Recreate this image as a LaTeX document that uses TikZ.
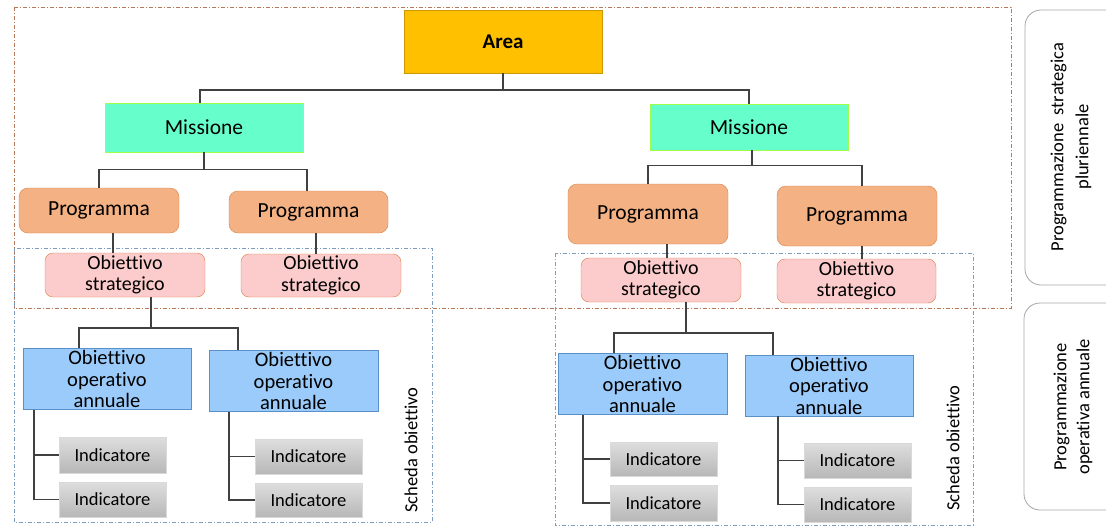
\documentclass[tikz,border=0pt]{standalone}
\usepackage{fontspec}
\setmainfont{Carlito}[Ligatures=NoCommon]
\usepackage{tikz}
\usetikzlibrary{arrows.meta,positioning,calc}

\definecolor{areaY}{HTML}{FFC000}
\definecolor{missG}{HTML}{66FFCC}
\definecolor{progO}{HTML}{F4B183}
\definecolor{progB}{HTML}{D9804A}
\definecolor{strP}{HTML}{FCCBCB}
\definecolor{opB}{HTML}{9BCBFA}
\definecolor{opE}{HTML}{5B8FC8}
\definecolor{frameBr}{HTML}{B8785A}
\definecolor{frameBl}{HTML}{7F9CBF}
\definecolor{linkG}{HTML}{404040}

\begin{document}
\begin{tikzpicture}[x=1pt, y=-1pt,
    box/.style={draw, inner sep=2pt, align=center},
    areabox/.style={box, fill=areaY, draw=areaY!80!black, font=\fontsize{21}{24}\selectfont\bfseries},
    missbox/.style={box, fill=missG, draw=green!55!yellow!70, font=\fontsize{21.5}{24}\selectfont},
    progbox/.style={box, rounded corners=9pt, fill=progO, draw=progB, font=\fontsize{21.5}{24}\selectfont},
    stratbox/.style={box, rounded corners=8pt, fill=strP, draw=progB, font=\fontsize{20}{21.5}\selectfont},
    opbox/.style={box, fill=opB, draw=opE, font=\fontsize{20.5}{21.5}\selectfont},
    indbox/.style={inner sep=2pt, top color=black!13, bottom color=black!28, draw=black!15, font=\fontsize{18.5}{21}\selectfont},
    link/.style={draw=linkG, line width=1.4pt},
    brframe/.style={draw=frameBr, line width=0.9pt, dash pattern=on 4pt off 2pt on 1pt off 2pt},
    blframe/.style={draw=frameBl, line width=0.9pt, dash pattern=on 4pt off 2pt on 1pt off 2pt},
    sidebox/.style={draw=black!35, line width=0.8pt, rounded corners=16pt},
    sidetext/.style={rotate=90, align=center, font=\fontsize{18.5}{25}\selectfont}]
    \useasboundingbox (0,0) rectangle (1106,527);

    % Frames
    \draw[brframe] (14,7) rectangle (1011,308);
    \draw[blframe] (14,248) rectangle (432,522);
    \draw[blframe] (555,253) rectangle (973,525);

    % Side labels
    \draw[sidebox] (1025,10) rectangle (1135,285);
    \draw[sidebox] (1024,303) rectangle (1135,510);
    \node[sidetext] (pluri) at (1071,147) {Programmazione~~strategica\\pluriennale};
    \node[sidetext, font=\fontsize{18.5}{23}\selectfont] (annua) at (1073,407) {Programmazione\\operativa annuale};
    \node[rotate=90, font=\fontsize{18.5}{21}\selectfont] (schedaL) at (411,450) {Scheda obiettivo};
    \node[rotate=90, font=\fontsize{18.5}{21}\selectfont] (schedaR) at (953,448) {Scheda obiettivo};

    % Area
    \node[areabox, minimum width=198, minimum height=63] (Area) at (503,41.5) {Area};

    % Missioni
    \node[missbox, minimum width=198, minimum height=49] (MissL) at (204,127.5) {Missione};
    \node[missbox, minimum width=198, minimum height=46] (MissR) at (749,127) {Missione};

    % Programmi
    \node[progbox, minimum width=160, minimum height=45] (ProgL1) at (99,210.5) {Programma};
    \node[progbox, minimum width=159, minimum height=42] (ProgL2) at (308.5,212) {Programma};
    \node[progbox, minimum width=160, minimum height=60] (ProgR1) at (648,214) {Programma};
    \node[progbox, minimum width=160, minimum height=60] (ProgR2) at (857,216) {Programma};

    % Obiettivi strategici
    \node[stratbox, minimum width=160, minimum height=44] (StrL1) at (125,275) {Obiettivo\\strategico};
    \node[stratbox, minimum width=160, minimum height=43] (StrL2) at (321,275.5) {Obiettivo\\strategico};
    \node[stratbox, minimum width=160, minimum height=44] (StrR1) at (661,280) {Obiettivo\\strategico};
    \node[stratbox, minimum width=159, minimum height=44] (StrR2) at (856.5,281) {Obiettivo\\strategico};

    % Obiettivi operativi
    \node[opbox, minimum width=168, minimum height=60] (OpL1) at (107,379) {Obiettivo\\operativo\\annuale};
    \node[opbox, minimum width=169, minimum height=60] (OpL2) at (293.5,381) {Obiettivo\\operativo\\annuale};
    \node[opbox, minimum width=169, minimum height=60] (OpR1) at (642.5,384) {Obiettivo\\operativo\\annuale};
    \node[opbox, minimum width=168, minimum height=61] (OpR2) at (829,385.5) {Obiettivo\\operativo\\annuale};

    % Indicatori
    \node[indbox, minimum width=107, minimum height=36] (IndL1a) at (112.5,455) {Indicatore};
    \node[indbox, minimum width=107, minimum height=35] (IndL1b) at (112.5,499.5) {Indicatore};
    \node[indbox, minimum width=107, minimum height=35] (IndL2a) at (308.5,456.5) {Indicatore};
    \node[indbox, minimum width=107, minimum height=34] (IndL2b) at (308.5,500) {Indicatore};
    \node[indbox, minimum width=107, minimum height=34] (IndR1a) at (663.5,459) {Indicatore};
    \node[indbox, minimum width=107, minimum height=36] (IndR1b) at (663.5,503) {Indicatore};
    \node[indbox, minimum width=107, minimum height=35] (IndR2a) at (857.5,460.5) {Indicatore};
    \node[indbox, minimum width=107, minimum height=35] (IndR2b) at (857.5,504.5) {Indicatore};

    % Links
    \draw[link] (Area.south) -- ++(0,17) -| ([xshift=-4]MissL.north);
    \draw[link] (Area.south) -- ++(0,17) -| (MissR.north);
    \draw[link] (MissL.south) -- ++(0,17) -| (ProgL1.north);
    \draw[link] (MissL.south) -- ++(0,17) -| ([xshift=-1.5]ProgL2.north);
    \draw[link] ([xshift=3]MissR.south) -- ++(0,15) -| (ProgR1.north);
    \draw[link] ([xshift=3]MissR.south) -- ++(0,15) -| ([xshift=5]ProgR2.north);
    \draw[link] ([xshift=14]ProgL1.south) -- ([xshift=14]ProgL1.south |- StrL1.north);
    \draw[link] ([xshift=7.5]ProgL2.south) -- ([xshift=7.5]ProgL2.south |- StrL2.north);
    \draw[link] ([xshift=19]ProgR1.south) -- ([xshift=19]ProgR1.south |- StrR1.north);
    \draw[link] ([xshift=5]ProgR2.south) -- ([xshift=5]ProgR2.south |- StrR2.north);

    \coordinate (busL) at (151,328);
    \coordinate (busR) at (686,333);
    \draw[link] ([xshift=26]StrL1.south) -- (busL);
    \draw[link] (busL) -| ([xshift=-28]OpL1.north);
    \draw[link] (busL) -| ([xshift=-55.5]OpL2.north);
    \draw[link] ([xshift=25]StrR1.south) -- (busR);
    \draw[link] (busR) -| ([xshift=-28.5]OpR1.north);
    \draw[link] (busR) -| ([xshift=-56]OpR2.north);

    \foreach \op/\dx/\ia/\ib in {OpL1/11/IndL1a/IndL1b, OpL2/20/IndL2a/IndL2b,
                                 OpR1/25/IndR1a/IndR1b, OpR2/33/IndR2a/IndR2b} {
        \draw[link] ([xshift=\dx]\op.south west) |- (\ia.west);
        \draw[link] ([xshift=\dx]\op.south west) |- (\ib.west);
    }
\end{tikzpicture}
\end{document}
